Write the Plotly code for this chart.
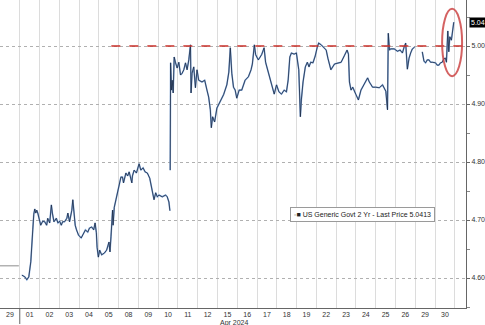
import plotly.graph_objects as go

# ---- data (x = trading-day position: day k spans [k, k+1]) ----
day_labels = ["29", "01", "02", "03", "04", "05", "08", "09", "10", "11", "12",
              "15", "16", "17", "18", "19", "22", "23", "24", "25", "26", "29", "30"]
series_name = "US Generic Govt 2 Yr - Last Price"
last_price = 5.0413
resistance_level = 5.00

# Good Friday (29 Mar) stale print
gf_t = [0.0, 0.955]
gf_v = [4.621, 4.621]

t_day = [
    1.106, 1.256, 1.357, 1.457, 1.558, 1.608, 1.658, 1.709, 1.759, 1.809, 1.859, 1.910, 1.960,
    2.060, 2.161, 2.261, 2.362, 2.412, 2.513, 2.598, 2.648, 2.729, 2.849, 2.930,
    3.015, 3.101, 3.166, 3.266, 3.382, 3.432, 3.518, 3.633, 3.683, 3.734, 3.804, 3.869, 3.970,
    4.106, 4.221, 4.322, 4.437, 4.523, 4.638, 4.739, 4.809, 4.874, 4.910, 4.975,
    5.040, 5.141, 5.276, 5.392, 5.513, 5.563, 5.613, 5.643, 5.693, 5.719, 5.779, 5.864, 5.945,
    6.030, 6.116, 6.196, 6.246, 6.367, 6.457, 6.533, 6.668, 6.698, 6.784, 6.899,
    7.035, 7.121, 7.236, 7.337, 7.452, 7.573, 7.673, 7.789, 7.874, 7.955,
    8.040, 8.206, 8.377, 8.457, 8.543, 8.593, None,
    8.608, 8.628, 8.678, 8.709, 8.759, 8.809, 8.879, 8.960,
    9.045, 9.131, 9.211, 9.296, 9.382, 9.462, 9.548, 9.633, 9.663, 9.714, 9.799, 9.884, 9.965,
    10.050, 10.216, 10.352, 10.467, 10.553, 10.638, 10.688, 10.754, 10.854, 10.970,
    11.141, 11.307, 11.472, 11.573, 11.648, 11.724, 11.809, 11.894, 11.975,
    12.095, 12.226, 12.397, 12.563, 12.698, 12.764, 12.864, 12.930,
    13.065, 13.231, 13.357, 13.432, 13.533, 13.653, 13.769, 13.869, 13.985,
    14.106, 14.236, 14.372, 14.487, 14.573, 14.658, 14.739, 14.874, 14.990,
    15.111, 15.191, 15.241, 15.327, 15.442, 15.543, 15.628, 15.714, 15.829, 15.945,
    16.045, 16.116, 16.246, 16.382, 16.497, 16.583, 16.734, 16.920,
    17.085, 17.251, 17.412, 17.553, 17.623, 17.673, 17.754, 17.839,
    18.005, 18.126, 18.256, 18.427, 18.593, 18.678, 18.844,
    19.010, 19.181, 19.347, 19.513, 19.598, 19.638, 19.698, 19.764, 19.935,
    20.101, 20.236, 20.352, 20.437, 20.518, 20.603, 20.688, 20.769, 20.854, 20.970, None,
    21.357, 21.442, 21.523, 21.608, 21.693, 21.774, 21.859, 21.945,
    22.025, 22.111, 22.196, 22.276, 22.362, 22.447, 22.528, 22.578, 22.613, 22.648,
    22.698, 22.749, 22.829, 22.874, 22.915, 22.950,
]

yield_pct = [
    4.605, 4.602, 4.597, 4.602, 4.628, 4.648, 4.683, 4.710, 4.719, 4.712, 4.717, 4.712, 4.705,
    4.691, 4.698, 4.697, 4.691, 4.703, 4.695, 4.726, 4.712, 4.697, 4.703, 4.695,
    4.698, 4.691, 4.697, 4.697, 4.703, 4.712, 4.697, 4.717, 4.735, 4.712, 4.691, 4.683, 4.674,
    4.669, 4.678, 4.683, 4.679, 4.686, 4.688, 4.683, 4.695, 4.678, 4.653, 4.636,
    4.648, 4.640, 4.643, 4.648, 4.662, 4.645, 4.671, 4.683, 4.717, 4.691, 4.722, 4.735, 4.748,
    4.760, 4.774, 4.774, 4.764, 4.781, 4.776, 4.783, 4.764, 4.776, 4.786, 4.781,
    4.797, 4.786, 4.790, 4.783, 4.781, 4.772, 4.757, 4.735, 4.747, 4.740,
    4.743, 4.740, 4.743, 4.740, 4.731, 4.716, None,
    4.786, 4.971, 4.924, 4.941, 4.919, 4.981, 4.971, 4.962,
    4.972, 4.950, 4.953, 4.959, 4.971, 4.959, 4.976, 5.002, 4.919, 4.953, 4.964, 4.928, 4.959,
    4.941, 4.938, 4.941, 4.924, 4.912, 4.890, 4.859, 4.878, 4.869, 4.893,
    4.905, 4.916, 4.933, 4.955, 4.997, 4.953, 4.929, 4.924, 4.910,
    4.924, 4.924, 4.941, 4.947, 4.959, 4.969, 5.002, 4.985,
    4.976, 4.985, 4.997, 4.972, 4.959, 4.948, 4.929, 4.917, 4.933,
    4.921, 4.917, 4.924, 4.921, 4.941, 4.981, 4.988, 4.986, 4.988,
    4.959, 4.878, 4.907, 4.938, 4.964, 4.972, 4.964, 4.972, 4.971, 4.983,
    4.998, 5.005, 5.002, 4.998, 4.993, 4.979, 4.959, 4.969,
    4.971, 4.972, 4.983, 4.993, 4.986, 4.938, 4.924, 4.929,
    4.916, 4.907, 4.924, 4.934, 4.945, 4.938, 4.929,
    4.929, 4.928, 4.933, 4.922, 4.890, 5.022, 4.993, 4.995, 4.995,
    4.991, 4.993, 4.988, 4.998, 5.005, 4.960, 4.979, 4.988, 4.995, 4.998, None,
    4.990, 4.974, 4.971, 4.976, 4.976, 4.972, 4.972, 4.971,
    4.971, 4.967, 4.967, 4.971, 4.972, 4.978, 4.979, 4.972, 5.007, 5.026,
    4.990, 5.016, 5.010, 5.019, 5.028, 5.041,
]

# ---- figure ----
X_MAX = 23.568
Y_MIN, Y_MAX = 4.5483, 5.0793
FONT = "Liberation Sans"

fig = go.Figure()
fig.add_trace(go.Scatter(x=gf_t, y=gf_v, mode="lines",
                         line=dict(color="#8c8c8c", width=1), hoverinfo="skip"))
fig.add_trace(go.Scatter(x=t_day, y=yield_pct, mode="lines",
                         line=dict(color="#8aaede", width=1.6), connectgaps=False,
                         hoverinfo="skip"))
fig.add_trace(go.Scatter(x=t_day, y=yield_pct, mode="lines", name=series_name,
                         line=dict(color="#1a2a44", width=0.8), connectgaps=False))

# resistance line at 5.00
fig.add_shape(type="line", xref="x", yref="y", x0=5.63, x1=X_MAX,
              y0=resistance_level, y1=resistance_level,
              line=dict(color="#c8312a", width=1.6, dash="dash"))
# highlight ellipse
fig.add_shape(type="circle", xref="x", yref="y", x0=22.36, x1=23.37,
              y0=4.948, y1=5.064,
              line=dict(color="rgba(205,70,70,0.85)", width=2))
# month divider tick below axis
fig.add_shape(type="line", xref="paper", yref="paper",
              x0=1 / X_MAX, x1=1 / X_MAX, y0=0, y1=-0.052,
              line=dict(color="#666666", width=1))

# last price tag
fig.add_annotation(xref="paper", yref="y", x=1.0, y=last_price, xanchor="left",
                   xshift=3, text=f"{last_price:.2f}", showarrow=False,
                   font=dict(family=FONT, size=7, color="white"),
                   bgcolor="black", borderpad=1)
# legend box
fig.add_annotation(xref="paper", yref="paper", x=0.622, y=0.302, xanchor="left",
                   yanchor="middle",
                   text=f"<span style='color:#999'>▫</span>■ {series_name} {last_price:.4f}",
                   showarrow=False, font=dict(family=FONT, size=7, color="#222"),
                   bgcolor="white", bordercolor="#9a9a9a", borderwidth=1, borderpad=3)
# month label
fig.add_annotation(xref="x", yref="paper", x=11.85, y=0, yanchor="top", yshift=-9,
                   text="Apr 2024", showarrow=False,
                   font=dict(family=FONT, size=7, color="#333"))

fig.update_layout(
    width=485, height=325,
    margin=dict(l=0, r=16, t=0, b=17),
    paper_bgcolor="white", plot_bgcolor="white",
    showlegend=False,
    font=dict(family=FONT, size=7, color="#333"),
    xaxis=dict(
        range=[0, X_MAX], tickmode="array",
        tickvals=[k + 0.5 for k in range(len(day_labels))], ticktext=day_labels,
        ticks="", showgrid=False, zeroline=False,
        showline=True, linecolor="#666666", linewidth=1,
        tickfont=dict(family=FONT, size=7, color="#333"),
        minor=dict(tick0=0, dtick=1, showgrid=True, gridcolor="#dcdcdc", gridwidth=1, ticks=""),
    ),
    yaxis=dict(
        range=[Y_MIN, Y_MAX], side="right", tickmode="array",
        tickvals=[4.6, 4.7, 4.8, 4.9, 5.0], ticktext=["4.60", "4.70", "4.80", "4.90", "5.00"],
        ticks="outside", ticklen=3, tickcolor="#666666",
        showgrid=True, gridcolor="#b0b0b0", griddash="dot", gridwidth=1,
        zeroline=False, showline=True, linecolor="#666666", linewidth=1,
        tickfont=dict(family=FONT, size=7, color="#333"),
        minor=dict(tick0=4.55, dtick=0.05, ticks="outside", ticklen=3,
                   tickcolor="#888888", showgrid=False),
    ),
)

fig.write_html("out.html")
